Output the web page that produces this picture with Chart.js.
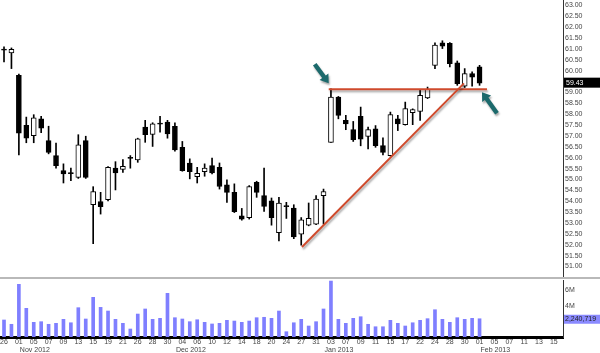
<!DOCTYPE html>
<html><head><meta charset="utf-8">
<script src="https://cdn.jsdelivr.net/npm/chart.js@4.4.1/dist/chart.umd.min.js"></script>
<style>
html,body{margin:0;padding:0;background:#fff;width:600px;height:353px;overflow:hidden}
#wrap{position:relative;width:600px;height:353px}
canvas{position:absolute;left:0}
#c1{top:0}
#sep{position:absolute;left:0;top:277px;width:600px;height:2px;background:#b9b9b9}
#c2{top:278px}
</style></head><body>
<div id="wrap">
<canvas id="c1" width="600" height="277"></canvas>
<div id="sep"></div>
<canvas id="c2" width="600" height="75"></canvas>
</div>
<script>
// ---- data (one entry per trading day, Oct 26 2012 .. Feb 1 2013) ----
const openP  = [60.96,60.82,59.79,57.49,57.02,57.79,56.79,56.10,55.41,55.30,55.10,56.79,53.84,53.99,54.07,55.52,55.46,55.99,55.90,57.41,57.07,57.57,57.64,57.45,56.48,55.75,55.13,55.36,55.64,55.56,54.76,54.41,53.33,53.25,54.87,54.26,54.02,52.56,53.77,53.69,52.49,52.90,52.95,54.26,56.71,58.79,57.72,57.29,57.90,56.98,57.33,56.56,56.10,57.79,57.52,58.07,58.13,58.75,60.25,61.28,61.26,60.36,59.29,59.87,60.18];
const highP  = [61.10,61.05,59.85,57.87,57.98,57.90,57.45,56.67,55.72,55.52,57.06,56.99,54.67,54.41,55.59,55.82,55.92,56.10,56.90,57.72,57.61,57.90,57.72,57.61,56.75,55.95,55.56,55.72,55.98,55.76,54.98,54.80,53.67,54.72,54.92,55.53,54.15,54.18,53.95,53.84,53.25,53.92,54.26,54.56,59.17,58.82,57.95,57.67,58.33,57.41,57.48,56.92,58.10,57.95,58.56,58.25,59.13,59.25,61.28,61.38,61.30,60.45,60.10,59.95,60.25];
const lowP   = [60.41,60.10,56.13,56.69,56.69,57.15,56.18,55.52,54.84,54.95,55.05,55.05,52.05,53.41,54.02,54.52,55.33,55.52,55.79,56.71,56.52,57.18,56.90,56.30,55.38,55.03,54.84,55.15,55.26,54.56,53.95,53.48,53.13,53.18,54.18,53.53,52.90,52.18,53.21,52.28,51.98,52.87,52.92,52.95,56.71,57.79,57.29,56.75,56.55,56.41,56.48,56.13,56.08,57.25,57.50,57.52,57.72,58.72,60.10,61.02,60.18,59.33,59.23,59.29,59.33];
const closeP = [60.95,60.98,57.13,56.90,57.84,57.36,56.25,55.64,55.26,55.27,56.59,55.10,54.45,53.75,55.56,55.30,55.61,55.97,56.87,57.06,57.56,57.55,57.10,56.36,55.41,55.36,55.28,55.52,55.30,54.68,54.41,53.52,53.18,54.67,54.41,53.76,53.25,53.92,53.75,52.36,53.15,53.21,54.10,54.45,58.79,57.95,57.56,56.83,56.85,57.30,56.56,56.25,57.99,57.56,58.26,58.22,58.87,59.15,61.18,61.13,60.33,59.41,59.87,59.71,59.43];
const volumeM = [2.09,1.56,6.47,3.52,1.80,1.88,1.56,1.68,2.17,1.75,3.60,2.21,4.87,3.64,3.19,2.17,1.68,0.98,2.82,3.44,2.17,2.29,5.36,2.37,2.21,1.88,2.12,1.80,1.60,1.68,2.05,1.96,1.80,1.96,2.37,2.42,2.29,3.19,0.65,1.75,2.17,1.35,1.88,3.44,6.87,2.17,1.68,2.29,2.49,1.56,1.26,1.26,2.05,1.68,1.35,1.75,2.05,2.25,3.35,2.17,1.80,2.37,2.17,2.29,2.240719];

// tick labels
const priceTicks = [63.00,62.50,62.00,61.50,61.00,60.50,60.00,59.50,59.00,58.50,58.00,57.50,57.00,56.50,56.00,55.50,55.00,54.50,54.00,53.50,53.00,52.50,52.00,51.50,51.00];
const volTicks = [4000000, 6000000];
const dayLabels = ['26','01','05','07','09','13','15','19','21','26','28','30','04','06','10','12','14','18','20','24','27','31','03','07','09','11','15','17','22','24','28','30','01','05','07','11','13','15'];
const monthLabels = ['Nov 2012','Dec 2012','Jan 2013','Feb 2013'];
const monthStart = [2, 23, 43, 64];

// annotations (in data units)
const resistance = {from: 43.7, to: 65.0, price: 59.15};
const trendLine = {x1: 40.1, y1: 51.90, x2: 61.9, y2: 59.42};

const X_MIN = -0.54, X_MAX = 75.23;
const FONT = '"Liberation Sans", Arial, sans-serif';
const TXT = '#444';

function zeroPad(s){ s.paddingTop=0; s.paddingBottom=0; s.paddingLeft=0; s.paddingRight=0; }

const wickData = openP.map((o,i)=>({x:i, y:[lowP[i], highP[i]]}));
const bodyData = openP.map((o,i)=>({x:i, y:[o, closeP[i]]}));
const bodyFill = openP.map((o,i)=> closeP[i] >= o ? '#ffffff' : '#000000');

function drawArrow(ctx, tx, ty, hx, hy){
  const ang = Math.atan2(hy-ty, hx-tx), L = Math.hypot(hx-tx, hy-ty);
  const sw = 2.2, hw = 5.5, hl = 8;
  ctx.save();
  ctx.translate(tx, ty); ctx.rotate(ang);
  ctx.beginPath();
  ctx.moveTo(0,-sw); ctx.lineTo(L-hl,-sw); ctx.lineTo(L-hl,-hw); ctx.lineTo(L,0);
  ctx.lineTo(L-hl,hw); ctx.lineTo(L-hl,sw); ctx.lineTo(0,sw); ctx.closePath();
  ctx.fill();
  ctx.restore();
}

const pricePlugin = {
  id:'priceAnn',
  afterDatasetsDraw(chart){
    const ctx = chart.ctx, xs = chart.scales.x, ys = chart.scales.y;
    ctx.save();
    ctx.shadowColor = 'rgba(0,0,0,0.35)';
    ctx.shadowOffsetX = 1; ctx.shadowOffsetY = 2; ctx.shadowBlur = 2;
    ctx.strokeStyle = '#cf4a2c'; ctx.lineWidth = 2;
    ctx.beginPath();
    ctx.moveTo(xs.getPixelForValue(resistance.from), ys.getPixelForValue(resistance.price));
    ctx.lineTo(xs.getPixelForValue(resistance.to), ys.getPixelForValue(resistance.price));
    ctx.stroke();
    ctx.beginPath();
    ctx.moveTo(xs.getPixelForValue(trendLine.x1), ys.getPixelForValue(trendLine.y1));
    ctx.lineTo(xs.getPixelForValue(trendLine.x2), ys.getPixelForValue(trendLine.y2));
    ctx.stroke();
    // arrows
    ctx.fillStyle = '#1c6a6c';
    const ax = xs.getPixelForValue(resistance.from), ay = ys.getPixelForValue(resistance.price);
    drawArrow(ctx, ax-14, ay-25, ax, ay-6);
    const bx = xs.getPixelForValue(resistance.to), by = ys.getPixelForValue(resistance.price);
    drawArrow(ctx, bx+10, by+24, bx-5, by+3);
    ctx.restore();
    // last price box
    const last = closeP[closeP.length-1];
    const py = ys.getPixelForValue(last);
    ctx.save();
    ctx.fillStyle = '#000';
    ctx.fillRect(ys.left+1, py-5.5, chart.width-ys.left-1, 10);
    ctx.fillStyle = '#fff';
    ctx.font = '7px ' + FONT;
    ctx.textBaseline = 'middle'; ctx.textAlign = 'left';
    ctx.fillText(last.toFixed(2), ys.left+3, py);
    ctx.restore();
  }
};

new Chart(document.getElementById('c1'), {
  type:'bar',
  data:{datasets:[
    {data: wickData, backgroundColor:'#000', borderWidth:0, barThickness:1, grouped:false, order:1},
    {data: bodyData, backgroundColor: bodyFill, borderColor:'#000', borderWidth:1, borderSkipped:false, barThickness:5, grouped:false, minBarLength:1, order:0}
  ]},
  options:{
    responsive:false, animation:false, devicePixelRatio:1,
    layout:{padding:0},
    plugins:{legend:{display:false}, tooltip:{enabled:false}},
    scales:{
      x:{type:'linear', display:false, offset:false, min:X_MIN, max:X_MAX, afterFit: zeroPad},
      y:{position:'right', min:50.517, max:63.254,
        grid:{display:false, drawTicks:false},
        border:{display:true, color:'#333', width:1},
        afterBuildTicks(s){ s.ticks = priceTicks.map(v=>({value:v})); },
        afterFit(s){ s.width = 37; zeroPad(s); },
        ticks:{autoSkip:false, padding:2, color:TXT, font:{size:7, family:FONT}, callback:v=>Number(v).toFixed(2)}
      }
    }
  },
  plugins:[pricePlugin]
});

const volPlugin = {
  id:'volAnn',
  afterDraw(chart){
    const ctx = chart.ctx, xs = chart.scales.x, ys = chart.scales.y;
    ctx.save();
    ctx.font = '7px ' + FONT;
    ctx.fillStyle = TXT; ctx.textAlign = 'left'; ctx.textBaseline = 'middle';
    monthLabels.forEach((m,k)=> ctx.fillText(m, xs.getPixelForValue(monthStart[k]) + 1, 72));
    const last = volumeM[volumeM.length-1];
    const py = ys.getPixelForValue(last*1e6);
    ctx.fillStyle = '#8a8aff';
    ctx.fillRect(ys.left+1, py-4, chart.width-ys.left-1, 9);
    ctx.fillStyle = '#222';
    ctx.fillText(Math.round(last*1e6).toLocaleString('en-US'), ys.left+2, py+0.5);
    ctx.restore();
  }
};

new Chart(document.getElementById('c2'), {
  type:'bar',
  data:{datasets:[
    {data: volumeM.map((v,i)=>({x:i, y:v*1e6})), backgroundColor:'#7f7fff', borderWidth:0, barThickness:3, grouped:false}
  ]},
  options:{
    responsive:false, animation:false, devicePixelRatio:1,
    layout:{padding:{top:2, left:0, right:0, bottom:0}},
    plugins:{legend:{display:false}, tooltip:{enabled:false}},
    scales:{
      x:{type:'linear', offset:false, min:X_MIN, max:X_MAX,
        grid:{display:false, drawTicks:false},
        border:{display:true, color:'#000', width:3},
        afterBuildTicks(s){ s.ticks = dayLabels.map((d,k)=>({value:2*k})); },
        afterFit(s){ s.height = 16; zeroPad(s); },
        ticks:{autoSkip:false, maxRotation:0, minRotation:0, padding:1, color:TXT, font:{size:7, family:FONT},
          callback:(v,idx)=>dayLabels[idx]}
      },
      y:{position:'right', min:0, max:7000000,
        grid:{display:false, drawTicks:false},
        border:{display:true, color:'#333', width:1},
        afterBuildTicks(s){ s.ticks = volTicks.map(v=>({value:v})); },
        afterFit(s){ s.width = 37; zeroPad(s); },
        ticks:{autoSkip:false, padding:2, labelOffset:2, color:TXT, font:{size:7, family:FONT}, callback:v=>(v/1e6)+'M'}
      }
    }
  },
  plugins:[volPlugin]
});
</script>
</body></html>
